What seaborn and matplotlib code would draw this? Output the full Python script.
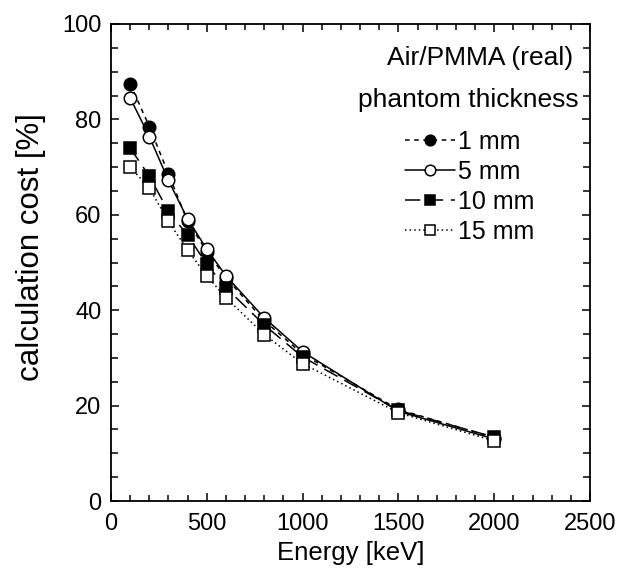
import matplotlib
matplotlib.use("Agg")
import matplotlib.pyplot as plt
import seaborn as sns
import pandas as pd
from matplotlib.ticker import MultipleLocator

energy = [100, 200, 300, 400, 500, 600, 800, 1000, 1500, 2000]
cost_1mm = [87.5, 78.5, 68.6, 58.6, 52.3, 46.8, 37.8, 30.8, 19.2, 13.3]
cost_5mm = [84.5, 76.4, 67.2, 59.1, 52.8, 47.2, 38.4, 31.3, 18.8, 13.0]
cost_10mm = [74.0, 68.1, 60.7, 55.7, 49.6, 44.7, 36.9, 30.2, 19.0, 13.4]
cost_15mm = [70.0, 65.6, 58.6, 52.6, 47.2, 42.6, 34.9, 28.8, 18.5, 12.6]
labels = ["1 mm", "5 mm", "10 mm", "15 mm"]

sns.set_theme(style="ticks")
plt.rcParams['font.family'] = ['Liberation Sans', 'DejaVu Sans']
plt.rcParams['text.color'] = 'black'
plt.rcParams['axes.labelcolor'] = 'black'
plt.rcParams['xtick.color'] = 'black'
plt.rcParams['ytick.color'] = 'black'

fig = plt.figure(figsize=(6.24, 5.68), dpi=100)
ax = fig.add_axes([111 / 624, 1 - 501 / 568, 479 / 624, 477 / 568])

series = [cost_1mm, cost_5mm, cost_10mm, cost_15mm]
styles = [
    dict(marker="o", mfc="black", ls=(0, (3, 3))),
    dict(marker="o", mfc="white", ls="-"),
    dict(marker="s", mfc="black", ls=(0, (10, 5))),
    dict(marker="s", mfc="white", ls=(0, (1, 2))),
]
for vals, lab, st in zip(series, labels, styles):
    df = pd.DataFrame({"Energy": energy, "cost": vals})
    sns.lineplot(data=df, x="Energy", y="cost", ax=ax, color="black",
                 marker=st["marker"], markerfacecolor=st["mfc"],
                 markeredgecolor="black", markersize=9, markeredgewidth=1.1,
                 linestyle=st["ls"], linewidth=1.1, label=lab)

ax.set_xlim(0, 2500)
ax.set_ylim(0, 100)
ax.xaxis.set_major_locator(MultipleLocator(500))
ax.xaxis.set_minor_locator(MultipleLocator(100))
ax.yaxis.set_major_locator(MultipleLocator(20))
ax.yaxis.set_minor_locator(MultipleLocator(5))
ax.tick_params(which="both", direction="in", top=True, right=True,
               labelsize=17, width=1.1, colors="black")
ax.tick_params(axis="y", pad=7)
ax.tick_params(axis="x", pad=9)
ax.tick_params(which="major", length=6)
ax.tick_params(axis="x", which="minor", length=4)
ax.tick_params(axis="y", which="minor", length=5)
for sp in ax.spines.values():
    sp.set_linewidth(1.3)
    sp.set_color("black")
    sp.set_visible(True)

ax.set_xlabel("Energy [keV]", fontsize=18.5, va="center", color="black")
ax.xaxis.set_label_coords(0.5, -(553 - 501) / 477, transform=ax.transAxes)
ax.set_ylabel("calculation cost [%]", fontsize=22.5, va="center", color="black")
ax.yaxis.set_label_coords(-(111 - 31) / 479, (501 - 247) / 477, transform=ax.transAxes)

ax.text((573 - 111) / 479, (501 - 58) / 477, "Air/PMMA (real)", transform=ax.transAxes,
        ha="right", va="center", fontsize=19, color="black")
ax.text((579 - 111) / 479, (501 - 100) / 477, "phantom thickness", transform=ax.transAxes,
        ha="right", va="center", fontsize=19, color="black")

leg = ax.legend(loc="upper left", bbox_to_anchor=((405 - 111) / 479, (501 - 130) / 477),
                frameon=False, fontsize=18, handlelength=2.0, handletextpad=0.1,
                labelspacing=0.24, borderaxespad=0, borderpad=0, markerscale=0.85,
                labelcolor="black")

fig.savefig("out.png", dpi=100)
